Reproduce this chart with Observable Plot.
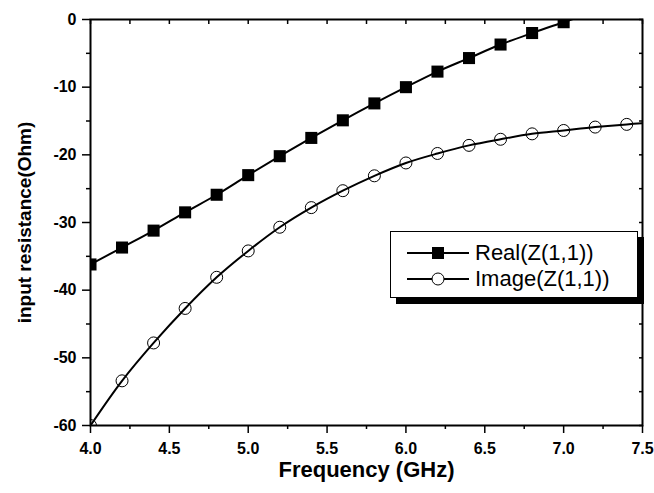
<!DOCTYPE html>
<html>
<head>
<meta charset="utf-8">
<script src="https://cdn.jsdelivr.net/npm/d3@7"></script>
<script src="https://cdn.jsdelivr.net/npm/@observablehq/plot@0.6"></script>
<style>
  html, body { margin: 0; padding: 0; background: #fff; }
  #wrap { position: relative; width: 654px; height: 493px; font-family: "Liberation Sans", Arial, sans-serif; }
  #legend { position: absolute; left: 390px; top: 231px; width: 246px; height: 65px; border: 1px solid #000; background: #fff; box-shadow: 6px 6px 0 #000; }
  .row { position: absolute; left: 0; height: 26px; display: flex; align-items: center; }
  .row svg { display: block; margin-left: 16px; }
  .row span { font-size: 22px; margin-left: 6px; color: #000; line-height: 26px; }
</style>
</head>
<body>
<div id="wrap"></div>
<script>
// Data
const freqReal = [4.0, 4.2, 4.4, 4.6, 4.8, 5.0, 5.2, 5.4, 5.6, 5.8, 6.0, 6.2, 6.4, 6.6, 6.8, 7.0, 7.2];
const realVals = [-36.2, -33.7, -31.2, -28.5, -25.9, -23.0, -20.2, -17.5, -14.9, -12.4, -10.0, -7.7, -5.7, -3.7, -2.0, -0.4, 1.2];
const freqImage = [4.0, 4.2, 4.4, 4.6, 4.8, 5.0, 5.2, 5.4, 5.6, 5.8, 6.0, 6.2, 6.4, 6.6, 6.8, 7.0, 7.2, 7.4, 7.6];
const imageVals = [-60.0, -53.4, -47.8, -42.7, -38.1, -34.2, -30.7, -27.8, -25.3, -23.1, -21.2, -19.8, -18.6, -17.7, -16.9, -16.4, -15.9, -15.5, -15.2];
const seriesNames = ["Real(Z(1,1))", "Image(Z(1,1))"];
const xMajor = [4.0, 4.5, 5.0, 5.5, 6.0, 6.5, 7.0, 7.5];
const xMinor = [4.25, 4.75, 5.25, 5.75, 6.25, 6.75, 7.25];
const yMajor = [0, -10, -20, -30, -40, -50, -60];
const yMinor = [-5, -15, -25, -35, -45, -55];
const xTitle = "Frequency (GHz)";
const yTitle = "input resistance(Ohm)";

const realData = freqReal.map((f, i) => ({f, v: realVals[i]}));
const imageData = freqImage.map((f, i) => ({f, v: imageVals[i]}));

const font = "'Liberation Sans', Arial, sans-serif";
const blank = () => "";

const chart = Plot.plot({
  width: 654,
  height: 493,
  marginLeft: 90,
  marginRight: 12,
  marginTop: 19,
  marginBottom: 68,
  style: {fontFamily: font, background: "#fff", color: "#000", overflow: "visible"},
  x: {domain: [4, 7.5]},
  y: {domain: [-60, 0]},
  marks: [
    Plot.line(realData, {x: "f", y: "v", stroke: "#000", strokeWidth: 2, curve: "catmull-rom", clip: true}),
    Plot.dot(realData, {x: "f", y: "v", symbol: "square", r: 6.8, fill: "#000", stroke: "none", clip: true}),
    Plot.line(imageData, {x: "f", y: "v", stroke: "#000", strokeWidth: 2, curve: "catmull-rom", clip: true}),
    Plot.dot(imageData, {x: "f", y: "v", symbol: "circle", r: 6, fill: "none", stroke: "#000", strokeWidth: 1, clip: true}),
    Plot.frame({stroke: "#000", strokeWidth: 2}),
    Plot.axisX({ticks: xMajor, tickSize: 8, tickPadding: 9, tickFormat: d => d.toFixed(1), label: null, strokeWidth: 1.5}),
    Plot.axisX({ticks: xMinor, tickSize: 4, tickFormat: blank, label: null, strokeWidth: 1.5}),
    Plot.axisX({anchor: "top", ticks: xMajor.concat(xMinor), tickSize: -4, tickFormat: blank, label: null, strokeWidth: 1.5}),
    Plot.axisY({ticks: yMajor, tickSize: 8, tickPadding: 6, tickFormat: d => String(d), label: null, strokeWidth: 1.5}),
    Plot.axisY({ticks: yMinor, tickSize: 4, tickFormat: blank, label: null, strokeWidth: 1.5}),
    Plot.axisY({anchor: "right", ticks: yMajor.concat(yMinor), tickSize: -4, tickFormat: blank, label: null, strokeWidth: 1.5}),
    Plot.text([xTitle], {frameAnchor: "bottom", dy: 51, text: d => d, fontSize: 22, fontWeight: "bold", fill: "#000", textAnchor: "middle"}),
    Plot.text([yTitle], {frameAnchor: "left", dx: -66, rotate: -90, text: d => d, fontSize: 19, fontWeight: "bold", fill: "#000", textAnchor: "middle"})
  ]
});

// enlarge and embolden tick labels
const titles = new Set([xTitle, yTitle]);
d3.select(chart).selectAll("text").each(function() {
  if (!titles.has(this.textContent)) {
    this.setAttribute("font-size", "16");
    this.setAttribute("font-weight", "bold");
    this.style.fontSize = "16px";
    this.style.fontWeight = "bold";
    this.style.fontVariant = "normal";
  }
});

const wrap = document.getElementById("wrap");
wrap.appendChild(chart);

// Legend
const legend = document.createElement("div");
legend.id = "legend";
const symbols = ["square", "circle"];
seriesNames.forEach((name, i) => {
  const row = document.createElement("div");
  row.className = "row";
  row.style.top = (i === 0 ? 8 : 34) + "px";
  const svg = d3.create("svg").attr("width", 62).attr("height", 14);
  svg.append("line").attr("x1", 0).attr("x2", 62).attr("y1", 7).attr("y2", 7).attr("stroke", "#000").attr("stroke-width", 2);
  if (symbols[i] === "square") {
    svg.append("rect").attr("x", 25).attr("y", 1).attr("width", 12).attr("height", 12).attr("fill", "#000");
  } else {
    svg.append("circle").attr("cx", 31).attr("cy", 7).attr("r", 6).attr("fill", "#fff").attr("stroke", "#000").attr("stroke-width", 1);
  }
  row.appendChild(svg.node());
  const span = document.createElement("span");
  span.textContent = name;
  row.appendChild(span);
  legend.appendChild(row);
});
wrap.appendChild(legend);
</script>
</body>
</html>
